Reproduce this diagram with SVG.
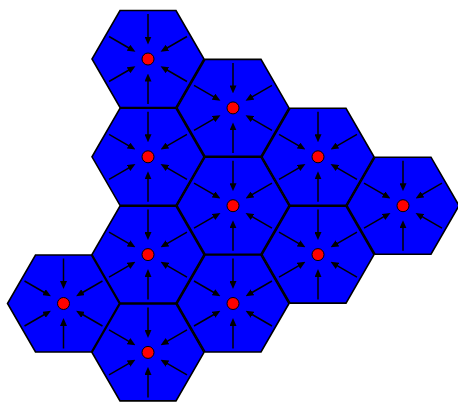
<svg xmlns="http://www.w3.org/2000/svg" xmlns:xlink="http://www.w3.org/1999/xlink" width="458" height="405" viewBox="0 0 458 405">
<style>
.hex{fill:#0000ff;stroke:#000;stroke-width:1.6;stroke-linejoin:miter}
.ar{stroke:#000;stroke-width:1.5;fill:none;marker-end:url(#ah)}
.dot{fill:#ff0000;stroke:#000;stroke-width:1}
</style>
<defs>
<marker id="ah" markerUnits="userSpaceOnUse" markerWidth="8" markerHeight="7" refX="2.5" refY="3.5" orient="auto">
<path d="M0,0 L8,3.5 L0,7 z" fill="#000"/>
</marker>
<g id="cell">
<polygon class="hex" points="56,0 28,48.5 -28,48.5 -56,0 -28,-48.5 28,-48.5"/>
<line class="ar" x1="0" y1="-45" x2="0" y2="-20"/>
<line class="ar" x1="0" y1="45" x2="0" y2="20"/>
<line class="ar" x1="38.97" y1="-22.5" x2="17.32" y2="-10"/>
<line class="ar" x1="-38.97" y1="-22.5" x2="-17.32" y2="-10"/>
<line class="ar" x1="38.97" y1="22.5" x2="17.32" y2="10"/>
<line class="ar" x1="-38.97" y1="22.5" x2="-17.32" y2="10"/>
<circle class="dot" cx="0" cy="0" r="6"/>
</g>
</defs>
<g id="cell1"><use xlink:href="#cell" x="148" y="59"/></g>
<g id="cell2"><use xlink:href="#cell" x="233" y="107.9"/></g>
<g id="cell3"><use xlink:href="#cell" x="148" y="156.8"/></g>
<g id="cell4"><use xlink:href="#cell" x="318" y="156.8"/></g>
<g id="cell5"><use xlink:href="#cell" x="233" y="205.7"/></g>
<g id="cell6"><use xlink:href="#cell" x="403" y="205.7"/></g>
<g id="cell7"><use xlink:href="#cell" x="148" y="254.6"/></g>
<g id="cell8"><use xlink:href="#cell" x="318" y="254.6"/></g>
<g id="cell9"><use xlink:href="#cell" x="63.5" y="303.5"/></g>
<g id="cell10"><use xlink:href="#cell" x="233" y="303.5"/></g>
<g id="cell11"><use xlink:href="#cell" x="148" y="352.4"/></g>
<g id="connectors"></g>
</svg>
